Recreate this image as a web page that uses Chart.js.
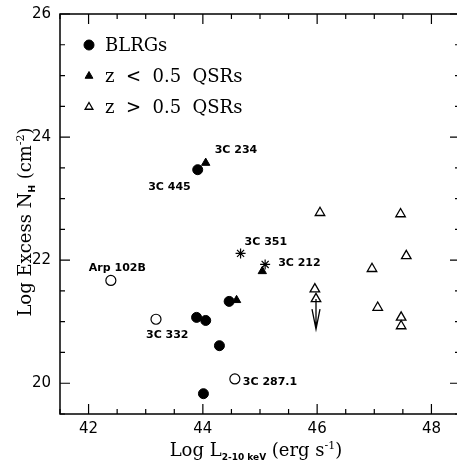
<!DOCTYPE html>
<html>
<head>
<meta charset="utf-8">
<script src="https://cdn.jsdelivr.net/npm/chart.js@4/dist/chart.umd.min.js"></script>
<style>
  html, body { margin: 0; padding: 0; background: #fff; }
  #wrap { width: 457px; height: 462px; }
</style>
</head>
<body>
<div id="wrap"><canvas id="nhChart"></canvas></div>
<script>
// BLRGs (filled circles)
const blrgX = [43.91, 43.89, 44.05, 44.46, 44.29, 44.01];
const blrgY = [23.47, 21.07, 21.02, 21.33, 20.61, 19.83];
// BLRGs plotted as open circles
const openX = [42.39, 43.18, 44.56];
const openY = [21.67, 21.04, 20.07];
// z < 0.5 QSRs (filled triangles)
const lowzX = [44.05, 45.04, 44.59];
const lowzY = [23.58, 21.82, 21.35];
// z > 0.5 QSRs (open triangles)
const highzX = [46.05, 47.46, 47.56, 46.96, 45.96, 45.98, 47.06, 47.47, 47.47];
const highzY = [22.77, 22.75, 22.07, 21.86, 21.53, 21.37, 21.23, 21.07, 20.93];
// asterisks
const starX = [44.66, 45.09];
const starY = [22.11, 21.93];
// upper limit (arrow)
const limitX = [45.98];
const limitFrom = [21.37];
const limitTo = [20.88];

const xTickLabels = [42, 44, 46, 48];
const yTickLabels = [20, 22, 24, 26];

// named sources
const sourceNames = ['3C 445', '3C 234', '3C 351', '3C 212', 'Arp 102B', '3C 332', '3C 287.1'];
const sourceX = [43.91, 44.05, 44.66, 45.09, 42.39, 43.18, 44.56];
const sourceY = [23.47, 23.58, 22.11, 21.93, 21.67, 21.04, 20.07];
// pixel offsets of the name from its point
const nameOffsets = [[-7, 17, 'right'], [9, -13, 'left'], [4, -11, 'left'], [13, -1, 'left'],
                     [-22, -12, 'left'], [-10, 16, 'left'], [8, 3, 'left']];

const serif = '"DejaVu Serif", serif';
const sans = '"DejaVu Sans", sans-serif';

function pts(xs, ys) {
  return xs.map((x, i) => ({ x: x, y: ys[i] }));
}

// draws text made of pieces with different fonts / baseline shifts, centred on x
function drawRich(ctx, parts, x, y) {
  let total = 0;
  parts.forEach(p => { ctx.font = p.font; total += ctx.measureText(p.t).width; });
  let cx = x - total / 2;
  ctx.textAlign = 'left';
  ctx.textBaseline = 'alphabetic';
  parts.forEach(p => {
    ctx.font = p.font;
    ctx.fillText(p.t, cx, y + (p.dy || 0));
    cx += ctx.measureText(p.t).width;
  });
}

// plot frame: the right edge sits just past the canvas, as in the original
const box = { left: 60, right: 460, top: 14, bottom: 414 };

const extras = {
  id: 'extras',
  afterLayout(chart) {
    const a = chart.chartArea;
    Object.assign(a, box, { width: box.right - box.left, height: box.bottom - box.top });
    const xs = chart.scales.x, ys = chart.scales.y;
    xs.left = box.left; xs.right = box.right; xs.width = box.right - box.left;
    xs.top = box.bottom; xs.bottom = chart.height; xs.height = chart.height - box.bottom;
    ys.top = box.top; ys.bottom = box.bottom; ys.height = box.bottom - box.top;
    ys.left = 0; ys.right = box.left; ys.width = box.left;
    xs.configure();
    ys.configure();
  },
  afterDraw(chart) {
    const ctx = chart.ctx;
    const a = chart.chartArea;
    const xs = chart.scales.x, ys = chart.scales.y;
    ctx.save();
    ctx.strokeStyle = '#000';
    ctx.fillStyle = '#000';

    // frame
    ctx.lineWidth = 1.5;
    ctx.strokeRect(a.left, a.top, a.right - a.left, a.bottom - a.top);

    // inward ticks on all four sides
    ctx.lineWidth = 1.2;
    ctx.beginPath();
    for (let v = Math.ceil(xs.min * 2) / 2; v <= xs.max; v += 0.5) {
      const px = xs.getPixelForValue(v);
      const len = xTickLabels.includes(v) ? 10 : 5;
      ctx.moveTo(px, a.bottom); ctx.lineTo(px, a.bottom - len);
      ctx.moveTo(px, a.top); ctx.lineTo(px, a.top + len);
    }
    for (let v = Math.ceil(ys.min * 2) / 2; v <= ys.max; v += 0.5) {
      const py = ys.getPixelForValue(v);
      const len = yTickLabels.includes(v) ? 10 : 5;
      ctx.moveTo(a.left, py); ctx.lineTo(a.left + len, py);
      ctx.moveTo(a.right, py); ctx.lineTo(a.right - len, py);
    }
    ctx.stroke();

    // upper limit arrow
    ctx.lineWidth = 1.3;
    limitX.forEach((lx, i) => {
      const px = xs.getPixelForValue(lx);
      const p0 = ys.getPixelForValue(limitFrom[i]);
      const p1 = ys.getPixelForValue(limitTo[i]);
      ctx.beginPath();
      ctx.moveTo(px, p0); ctx.lineTo(px, p1);
      ctx.moveTo(px - 4, p1 - 20); ctx.lineTo(px, p1); ctx.lineTo(px + 4, p1 - 20);
      ctx.stroke();
    });

    // source names
    ctx.font = 'bold 11px ' + sans;
    ctx.textBaseline = 'middle';
    sourceNames.forEach((name, i) => {
      const o = nameOffsets[i];
      ctx.textAlign = o[2];
      ctx.fillText(name, xs.getPixelForValue(sourceX[i]) + o[0], ys.getPixelForValue(sourceY[i]) + o[1]);
    });

    // legend inside the plot
    const rows = [0, 2, 3];
    rows.forEach((di, k) => {
      const ds = chart.data.datasets[di];
      const y = 45 + k * 31;
      ctx.fillStyle = ds.backgroundColor;
      ctx.strokeStyle = '#000';
      ctx.lineWidth = ds.borderWidth;
      Chart.helpers.drawPoint(ctx, {
        pointStyle: ds.pointStyle, radius: ds.pointStyle === 'circle' ? 5 : 4.5,
        rotation: 0, borderWidth: ds.borderWidth
      }, 89, y);
      ctx.fillStyle = '#000';
      ctx.font = '18px ' + serif;
      ctx.textAlign = 'left';
      ctx.textBaseline = 'middle';
      ctx.fillText(ds.label, 105, y + 1);
    });

    // axis titles
    ctx.fillStyle = '#000';
    drawRich(ctx, [
      { t: 'Log L', font: '18px ' + serif },
      { t: '2-10 keV', font: 'bold 9px ' + sans, dy: 4 },
      { t: ' (erg s', font: '18px ' + serif },
      { t: '-1', font: '11px ' + serif, dy: -7 },
      { t: ')', font: '18px ' + serif }
    ], 256, 456);

    ctx.translate(31, 222);
    ctx.rotate(-Math.PI / 2);
    drawRich(ctx, [
      { t: 'Log Excess N', font: '18px ' + serif },
      { t: 'H', font: 'bold 9px ' + sans, dy: 4 },
      { t: ' (cm', font: '18px ' + serif },
      { t: '-2', font: '11px ' + serif, dy: -7 },
      { t: ')', font: '18px ' + serif }
    ], 0, 0);
    ctx.restore();
  }
};

new Chart(document.getElementById('nhChart'), {
  type: 'scatter',
  data: {
    datasets: [{
      label: 'BLRGs',
      data: pts(blrgX, blrgY),
      pointStyle: 'circle',
      pointRadius: 5,
      backgroundColor: '#000',
      borderColor: '#000',
      borderWidth: 1
    }, {
      label: 'BLRGs (open)',
      data: pts(openX, openY),
      pointStyle: 'circle',
      pointRadius: 5,
      backgroundColor: '#fff',
      borderColor: '#000',
      borderWidth: 1.2
    }, {
      label: 'z  <  0.5  QSRs',
      data: pts(lowzX, lowzY),
      pointStyle: 'triangle',
      pointRadius: 4.8,
      backgroundColor: '#000',
      borderColor: '#000',
      borderWidth: 1
    }, {
      label: 'z  >  0.5  QSRs',
      data: pts(highzX, highzY),
      pointStyle: 'triangle',
      pointRadius: 5.5,
      backgroundColor: '#fff',
      borderColor: '#000',
      borderWidth: 1.3
    }, {
      label: 'stars',
      data: pts(starX, starY),
      pointStyle: 'star',
      pointRadius: 5,
      backgroundColor: '#000',
      borderColor: '#000',
      borderWidth: 1.2
    }]
  },
  options: {
    responsive: true,
    maintainAspectRatio: false,
    animation: false,
    events: [],
    layout: { padding: { top: 14, right: 0, left: 0, bottom: 0 } },
    plugins: {
      legend: { display: false },
      tooltip: { enabled: false }
    },
    scales: {
      x: {
        type: 'linear',
        min: 41.5,
        max: 48.5,
        grid: { display: false, drawTicks: false },
        border: { display: false },
        ticks: {
          stepSize: 0.5,
          autoSkip: false,
          maxRotation: 0,
          padding: 6,
          color: '#000',
          font: { family: 'DejaVu Sans', size: 15 },
          callback: v => xTickLabels.includes(v) ? String(v) : ''
        },
        afterFit: s => { s.height = 48; }
      },
      y: {
        type: 'linear',
        min: 19.5,
        max: 26,
        grid: { display: false, drawTicks: false },
        border: { display: false },
        ticks: {
          stepSize: 0.5,
          autoSkip: false,
          padding: 9,
          color: '#000',
          font: { family: 'DejaVu Sans', size: 15 },
          callback: v => yTickLabels.includes(v) ? String(v) : ''
        },
        afterFit: s => { s.width = 60; }
      }
    }
  },
  plugins: [extras]
});
</script>
</body>
</html>
